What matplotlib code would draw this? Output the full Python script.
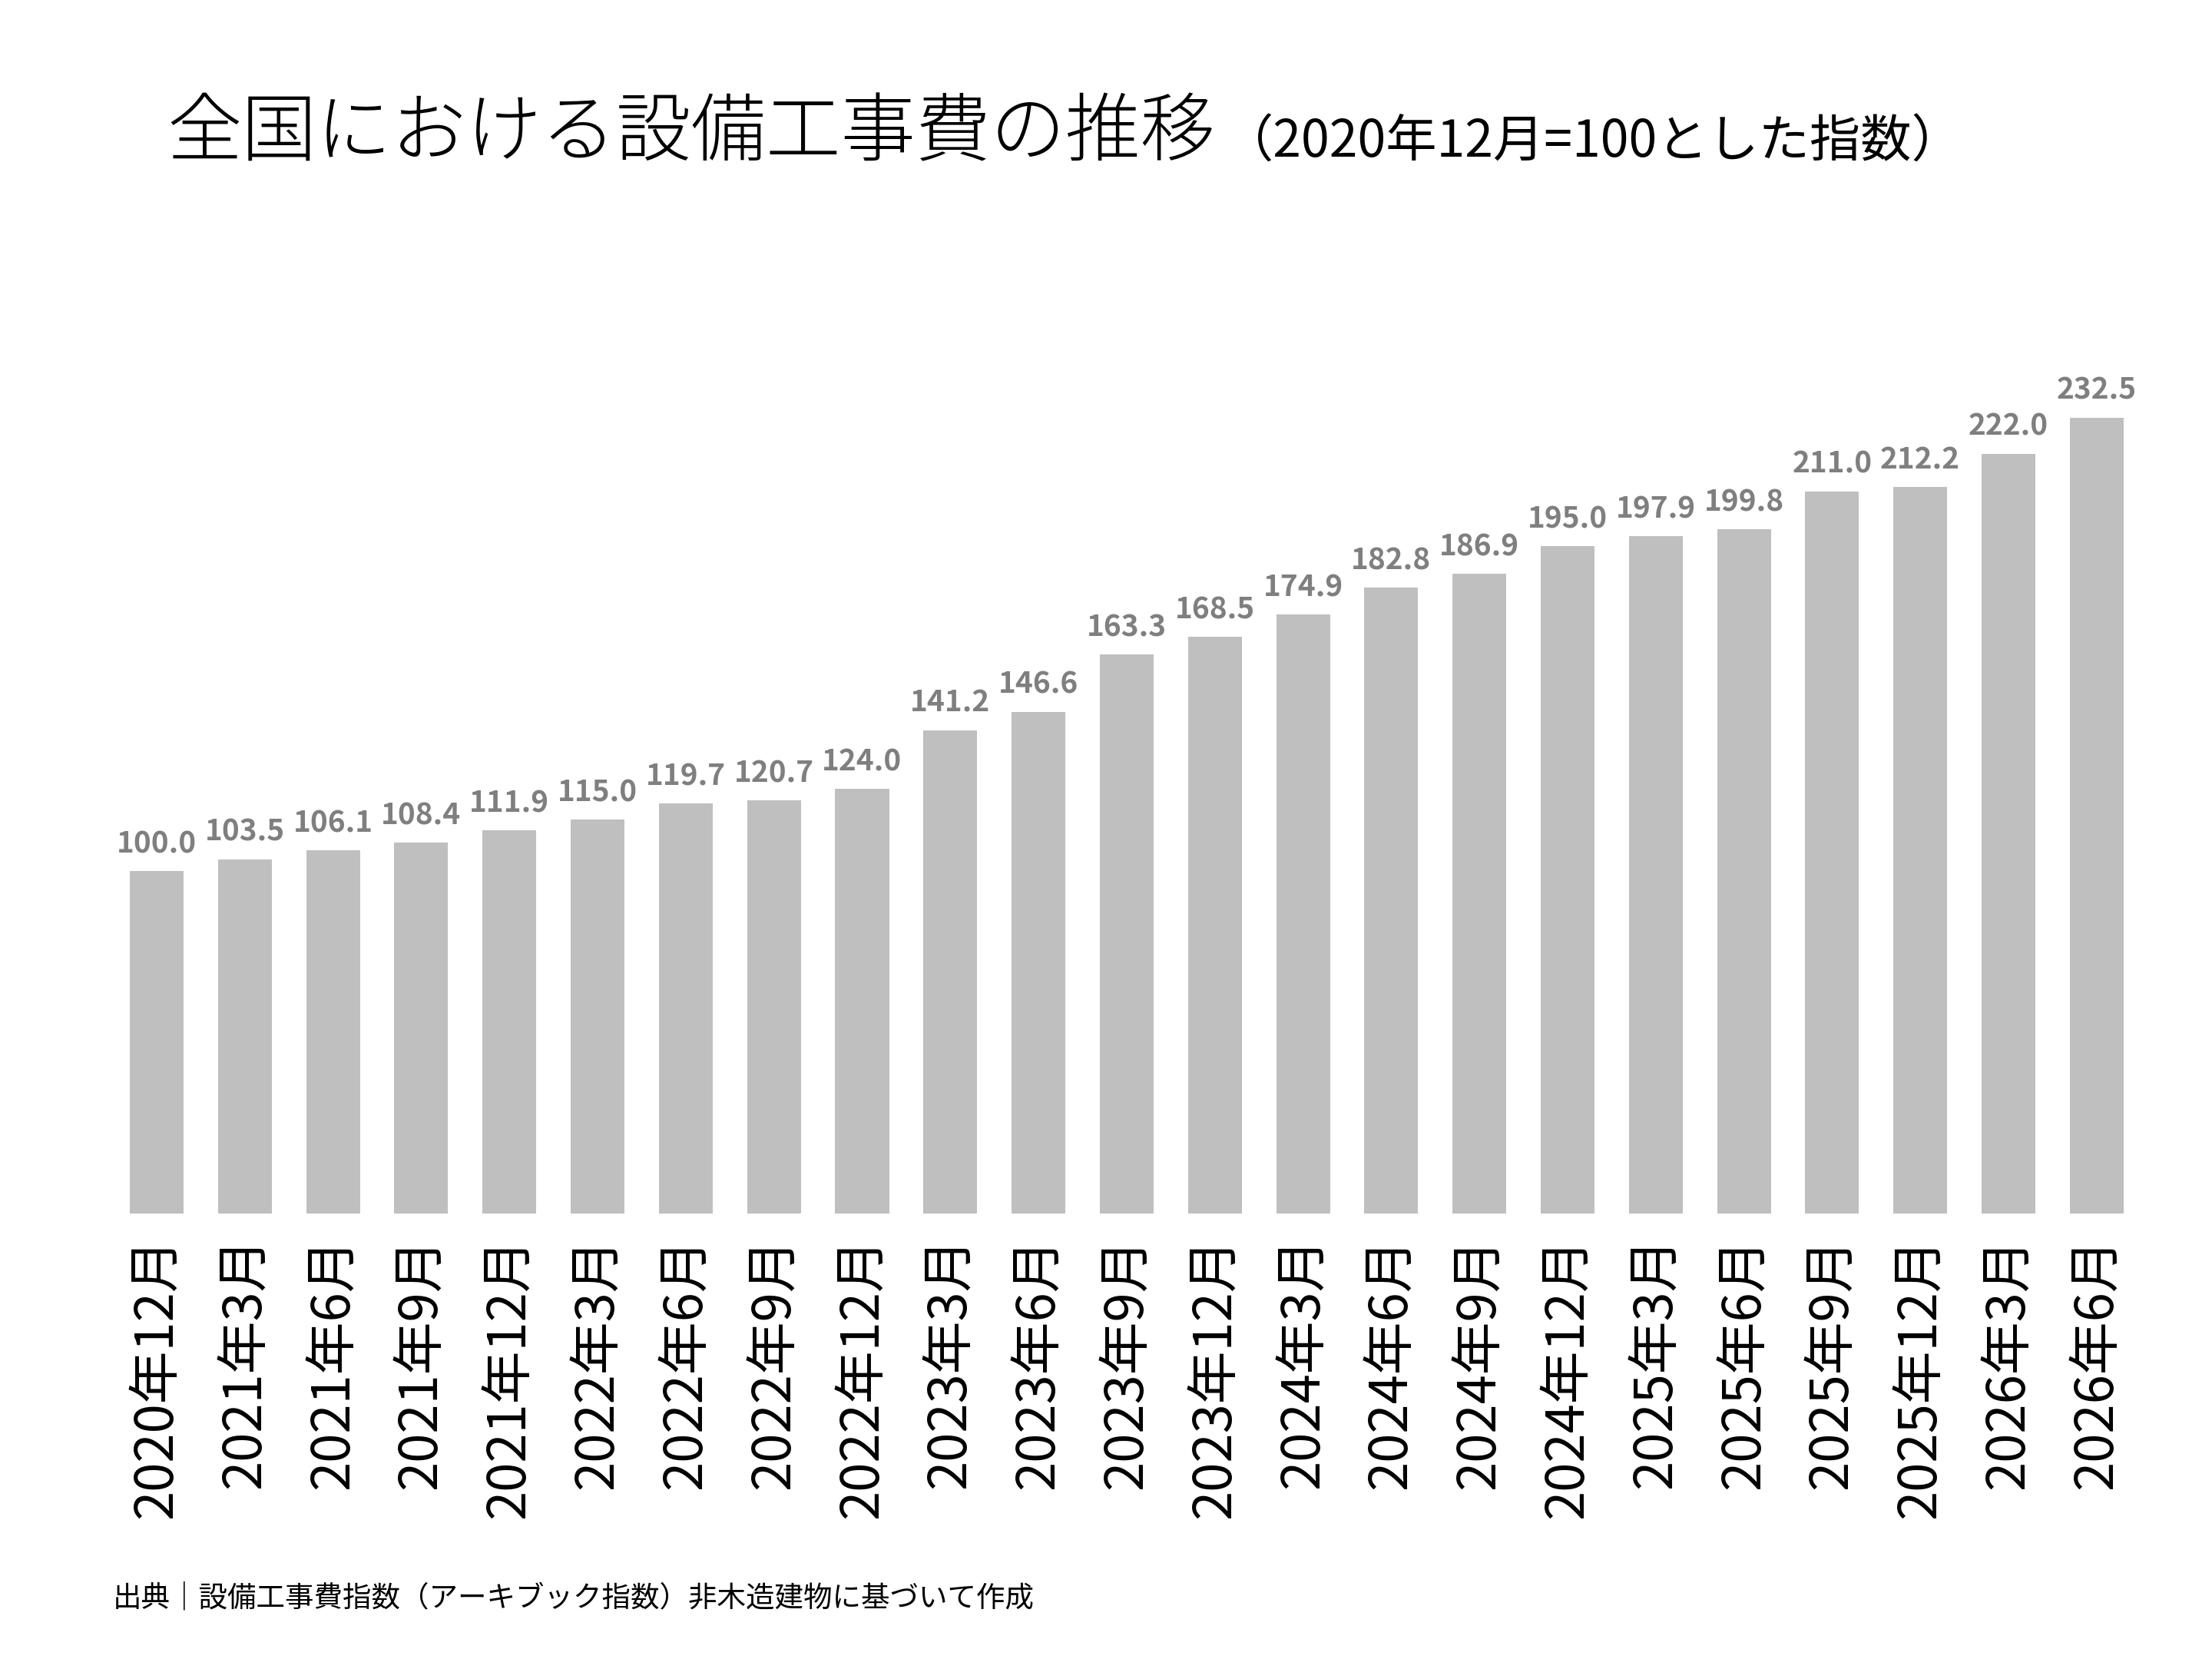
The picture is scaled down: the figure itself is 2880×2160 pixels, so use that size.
import matplotlib
matplotlib.use("Agg")
import matplotlib.pyplot as plt
from matplotlib import font_manager

# 全国における設備工事費の推移 (2020年12月=100)
periods = [
    "2020年12月",
    "2021年3月", "2021年6月", "2021年9月", "2021年12月",
    "2022年3月", "2022年6月", "2022年9月", "2022年12月",
    "2023年3月", "2023年6月", "2023年9月", "2023年12月",
    "2024年3月", "2024年6月", "2024年9月", "2024年12月",
    "2025年3月", "2025年6月", "2025年9月", "2025年12月",
    "2026年3月", "2026年6月",
]
index_values = [
    100.0, 103.5, 106.1, 108.4, 111.9, 115.0, 119.7, 120.7, 124.0,
    141.2, 146.6, 163.3, 168.5, 174.9, 182.8, 186.9, 195.0,
    197.9, 199.8, 211.0, 212.2, 222.0, 232.5,
]

title = "全国における設備工事費の推移"
subtitle = "（2020年12月=100とした指数）"
source = "出典｜設備工事費指数（アーキブック指数）非木造建物に基づいて作成"

jp_font = ["Noto Sans CJK JP", "DejaVu Sans"]
installed = {f.name for f in font_manager.fontManager.ttflist}
num_font = "Liberation Sans Narrow" if "Liberation Sans Narrow" in installed else "Noto Sans CJK JP"

plt.rcParams["font.family"] = jp_font

fig = plt.figure(figsize=(16, 12), dpi=180)
ax = fig.add_axes([0.0509, 0.2685, 0.9169, 0.5159])

x = list(range(len(index_values)))
bars = ax.bar(x, index_values, width=0.61, color="#bfbfbf")

for xi, v in zip(x, index_values):
    ax.annotate(f"{v:.1f}", xy=(xi, v), xytext=(0, 9.5), textcoords="offset points",
                ha="center", va="baseline", fontsize=15.5, fontweight="bold",
                color="#7f7f7f", family=[num_font, "DejaVu Sans"])

ax.set_xlim(-0.5, len(index_values) - 0.5)
ax.set_ylim(0, 250)
ax.set_xticks(x)
ax.set_xticklabels(periods, rotation=90, fontsize=27.5, color="black")
ax.tick_params(axis="x", length=0, pad=12)
ax.set_yticks([])
for s in ax.spines.values():
    s.set_visible(False)

t = fig.text(0.0755, 0.919, title, fontsize=39, fontweight="light",
             ha="left", va="center", color="black")
fig.canvas.draw()
ax.annotate(subtitle, xy=(1.0, 0.0), xycoords=t, xytext=(4, 2),
            textcoords="offset points", ha="left", va="bottom",
            fontsize=26.5, color="black")

fig.text(0.051, 0.0366, source, fontsize=15, ha="left", va="center", color="black")

fig.savefig("out.png", dpi=180)
